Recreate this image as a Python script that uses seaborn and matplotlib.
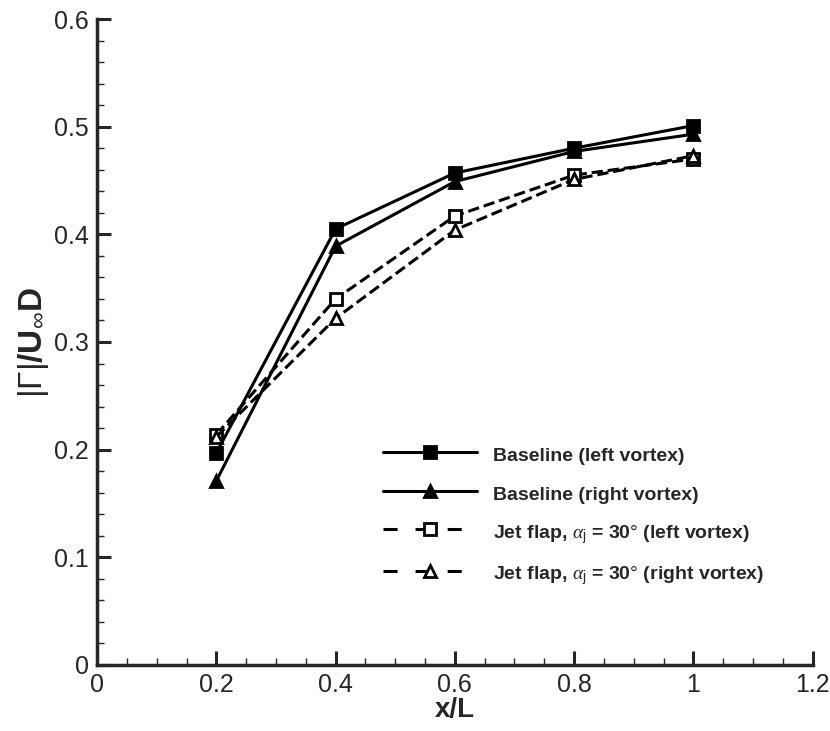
import matplotlib
matplotlib.use("Agg")
import matplotlib.pyplot as plt
import seaborn as sns
import pandas as pd
from matplotlib.lines import Line2D
from matplotlib.ticker import MultipleLocator, FormatStrFormatter

x_over_L = [0.2, 0.4, 0.6, 0.8, 1.0]
baseline_left = [0.197, 0.405, 0.457, 0.480, 0.501]
baseline_right = [0.171, 0.389, 0.449, 0.477, 0.493]
jet_left = [0.214, 0.340, 0.417, 0.455, 0.470]
jet_right = [0.212, 0.322, 0.404, 0.451, 0.473]

labels = [
    "Baseline (left vortex)",
    "Baseline (right vortex)",
    r"Jet flap, $\alpha_\mathrm{j}$ = 30$\degree$ (left vortex)",
    r"Jet flap, $\alpha_\mathrm{j}$ = 30$\degree$ (right vortex)",
]

sns.set_style("ticks")
plt.rcParams['font.family'] = ['Liberation Sans', 'DejaVu Sans']
plt.rcParams['mathtext.fontset'] = 'custom'
plt.rcParams['mathtext.rm'] = 'Liberation Sans'
plt.rcParams['mathtext.it'] = 'Liberation Serif:italic'

fig = plt.figure(figsize = (8.3, 7.31), dpi = 100)
ax = fig.add_axes([0.117, 0.0903, 0.862, 0.8837])

LW = 2.2
series = [
    (baseline_left, 's', 'black', '-'),
    (baseline_right, '^', 'black', '-'),
    (jet_left, 's', 'white', '--'),
    (jet_right, '^', 'white', '--'),
]
handles = []
for (vals, mk, fc, ls), lab in zip(series, labels):
    df = pd.DataFrame({'x': x_over_L, 'y': vals})
    line_kw = dict(linestyle = ls)
    if ls == '--':
        line_kw['dashes'] = (2.6, 1.8)
    mk_kw = dict(marker = mk, markersize = 9, markerfacecolor = fc,
                 markeredgecolor = 'black', markeredgewidth = 2)
    sns.lineplot(data = df, x = 'x', y = 'y', ax = ax, color = 'black', lw = LW,
                 legend = False, **mk_kw, **line_kw)
    # legend handle: long-gap dashes like the original
    h_kw = dict(linestyle = ls)
    if ls == '--':
        h_kw['dashes'] = (4.6, 5.9)
    handles.append(Line2D([], [], color = 'black', lw = LW, **mk_kw, **h_kw))

ax.set_xlim(0, 1.2)
ax.set_ylim(0, 0.6)
ax.xaxis.set_major_locator(MultipleLocator(0.2))
ax.xaxis.set_minor_locator(MultipleLocator(0.05))
ax.yaxis.set_major_locator(MultipleLocator(0.1))
ax.yaxis.set_minor_locator(MultipleLocator(0.02))
ax.xaxis.set_major_formatter(FormatStrFormatter('%g'))
ax.yaxis.set_major_formatter(FormatStrFormatter('%g'))
ax.tick_params(which = 'major', direction = 'in', length = 10, width = 2.2, labelsize = 18, pad = 6)
ax.tick_params(which = 'minor', direction = 'in', length = 5, width = 1)
sns.despine(ax = ax)
for sp in ['left', 'bottom']:
    ax.spines[sp].set_linewidth(2.5)

ax.set_xlabel("x/L", fontsize = 20, fontweight = 'bold', labelpad = 0)
ax.set_ylabel(r"$|\mathit{\Gamma}|$/U$_\infty$D", fontsize = 24, fontweight = 'bold', labelpad = 2)

ax.legend(
    handles, labels,
    loc = 'lower left', bbox_to_anchor = (0.4, 0.12), frameon = False,
    borderaxespad = 0, borderpad = 0,
    handlelength = 4.84, handleheight = 1.4, handletextpad = 0.82, labelspacing = 0.83,
    prop = {'weight': 'bold', 'size': 14},
)

fig.savefig("out.png", dpi = 100)
